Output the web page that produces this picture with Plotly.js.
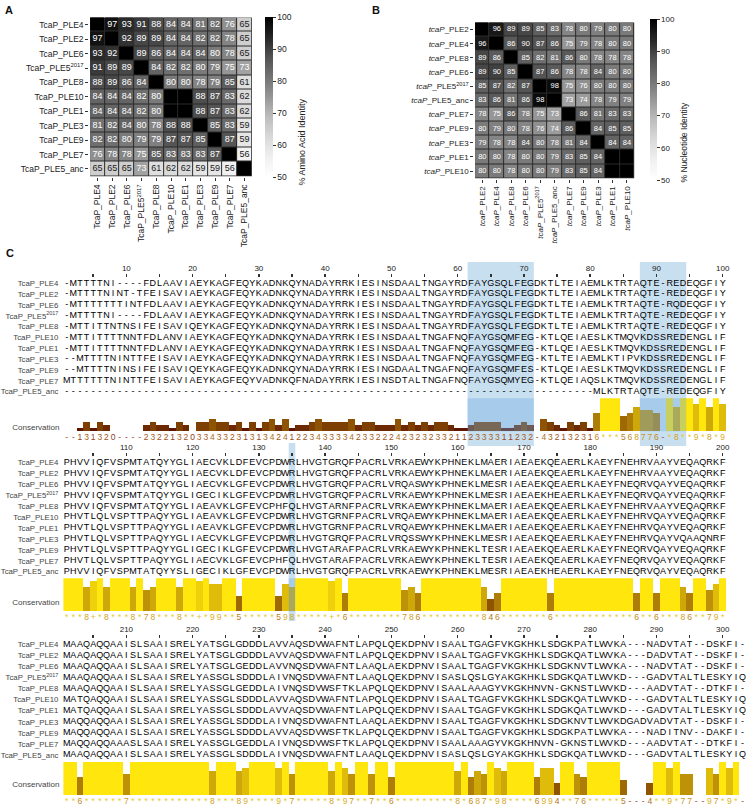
<!DOCTYPE html>
<html>
<head>
<meta charset="utf-8">
<script src="https://cdn.plot.ly/plotly-3.0.1.min.js"></script>
<style>
  html, body { margin: 0; padding: 0; background: #fff; }
  #chart { width: 747px; height: 804px; }
</style>
</head>
<body>
<div id="chart"></div>
<script>
// Identidad de aminoácidos (A) y nucleótidos (B), y alineamiento (C)
const aaLabels = ["TcaP_PLE4", "TcaP_PLE2", "TcaP_PLE6", "TcaP_PLE5<sup>2017</sup>", "TcaP_PLE8", "TcaP_PLE10",
  "TcaP_PLE1", "TcaP_PLE3", "TcaP_PLE9", "TcaP_PLE7", "TcaP_PLE5_anc"]
const aaIdentity = [
  [100, 97, 93, 91, 88, 84, 84, 81, 82, 76, 65],
  [97, 100, 92, 89, 89, 84, 84, 82, 82, 78, 65],
  [93, 92, 100, 89, 86, 84, 84, 84, 80, 78, 65],
  [91, 89, 89, 100, 84, 82, 82, 80, 79, 75, 73],
  [88, 89, 86, 84, 100, 80, 80, 78, 79, 85, 61],
  [84, 84, 84, 82, 80, 100, 100, 88, 87, 83, 62],
  [84, 84, 84, 82, 80, 100, 100, 88, 87, 83, 62],
  [81, 82, 84, 80, 78, 88, 88, 100, 85, 83, 59],
  [82, 82, 80, 79, 79, 87, 87, 85, 100, 87, 59],
  [76, 78, 78, 75, 85, 83, 83, 83, 87, 100, 56],
  [65, 65, 65, 73, 61, 62, 62, 59, 59, 56, 100],
]

const ntLabels = ["<i>tcaP</i>_PLE2", "<i>tcaP</i>_PLE4", "<i>tcaP</i>_PLE8", "<i>tcaP</i>_PLE6",
  "<i>tcaP</i>_PLE5<sup>2017</sup>", "<i>tcaP</i>_PLE5_anc", "<i>tcaP</i>_PLE7", "<i>tcaP</i>_PLE9",
  "<i>tcaP</i>_PLE3", "<i>tcaP</i>_PLE1", "<i>tcaP</i>_PLE10"]
const ntIdentity = [
  [100, 96, 89, 89, 85, 83, 78, 80, 79, 80, 80],
  [96, 100, 86, 90, 87, 86, 75, 79, 78, 80, 80],
  [89, 86, 100, 85, 82, 81, 86, 80, 78, 78, 78],
  [89, 90, 85, 100, 87, 86, 78, 78, 84, 80, 80],
  [85, 87, 82, 87, 100, 98, 75, 76, 80, 80, 80],
  [83, 86, 81, 86, 98, 100, 73, 74, 78, 79, 79],
  [78, 75, 86, 78, 75, 73, 100, 86, 81, 83, 83],
  [80, 79, 80, 78, 76, 74, 86, 100, 84, 85, 85],
  [79, 78, 78, 84, 80, 78, 81, 84, 100, 84, 84],
  [80, 80, 78, 80, 80, 79, 83, 85, 84, 100, 100],
  [80, 80, 78, 80, 80, 79, 83, 85, 84, 100, 100],
]

const alnNames = ["TcaP_PLE4", "TcaP_PLE2", "TcaP_PLE6", "TcaP_PLE5<sup>2017</sup>", "TcaP_PLE8", "TcaP_PLE10",
  "TcaP_PLE1", "TcaP_PLE3", "TcaP_PLE9", "TcaP_PLE7", "TcaP_PLE5_anc"]

// posiciones 1-100
const alnBlock1 = [
  "-MTTTTNI----FDLAAVIAEYKAGFEQYKADNKQYNADAYRRKIESINSDAALTNGAYRDFAYGSQLFEGDKTLTEIAEMLKTRTAQTE-REDEQGFIY",
  "-MTTTTNINT-TFEISAVIAEYKAGFEQYKADNKQYNADAYRRKIESINSDAALTNGAYRDFAYGSQLFEGDKTLTEIAEMLKTRTAQTE-REDEQGFIY",
  "-MTTTTTTTINTFDLAAVIAEYKAGFEQYKADNKQYNADAYRRKIESINSDAALTNGAYRDFAYGSQLFEGDKTLTEIAEMLKTRTAQTE-RQDEQGFIY",
  "-MTTTTNI----FDLAAVIAEYKAGFEQYKADNKQYNADAYRRKIESINSDAALTNGAYRDFAYGSQLFEGDKTLTEIAEMLKTRTAQTE-REDEQGFIY",
  "-MTTITTNTNSIFEISAVIQEYKAGFEQYKADNKQYNADAYRRKIESINSDAALTNGAYRDFAYGSQLFEGDKTLTEIAEMLKTRTAQTE-REDEQGFIY",
  "-MTTITTTTNNTFDLANVIAEYKAGFEQYKADNKQYNADAYRRKIESINSDAALTNGAFNQFAYGSQMFEG-KTLQEIAESLKTMQVKDSSREDENGLIF",
  "-MTTITTTTNNTFDLANVIAEYKAGFEQYKADNKQYNADAYRRKIESINSDAALTNGAFNQFAYGSQMFEG-KTLQEIAESLKTMQVKDSSREDENGLIF",
  "--MTTTTNINTTFEISAVIAEYKAGFEQYKADNKQYNADAYRRKIESINSDAALTNGAFNQFAYGSQMFEG-KTLTEIAEMLKTIPVKDSSREDENGLIF",
  "--MTTTTNINSIFEISAVIQEYKAGFEQYKADNKQYNADAYRRKIESINGDAALTNGAFNQFAYGSQMFES-KTLQEIAESLKTMQVKDSSREDENGLIF",
  "MTTTTTTNINTTFEISAVIAEYKAGFEQYVADNKQFNADAYRRKIESINSDTALTNGAFNQFAYGSQMYEG-KTLQEIAQSLKTMQVKDSSREDENGLIF",
  "----------" + "----------" + "----------" + "----------" + "----------" + "----------" + "----------" +
    "----------" + "MLKTRTAQTE-REDEQGFIY",
]
// posiciones 101-200
const alnBlock2 = [
  "PHVVIQFVSPMTATQYYGLIAECVKLDFEVCPDWRLHVGTGRQFPACRLVRKAEWYKPHNEKLMAERIAEAEKQEAERLKAEYFNEHRVAAYVEQAQRKF",
  "PHVVIQFVSPMTATQYYGLIAECVKLDFEVCPDWRLHVGTGRQFPACRLVRKAEWYKPHNEKLMAERIAEAEKQEAERLKAEYFNEHRVAAYVEQAQRKF",
  "PHVVIQFVSPMTATQYYGLIAECVKLGFEVCPDWRLHVGTGRQFPACRLVRQASWYKPHNEKLMESRIAEAEKQEAERLKAEYFNEQRVQAYVEQAQRKF",
  "PHVVIQFVSPMTATQYYGLIGECIKLGFEVCPDWRLHVGTGRQFPACRLVRKAEWYKPHNEKLMESRIAEAEKHEAERLKAEYFNEQRVQAYVEQAQRKF",
  "PHVVIQFVSPMTATQYYGLIAEAVKLGFEVCPHFQLHVGTARNFPACRLVRKAEWYKPHNEKLMAERIAEAEKQEAERLKAEYFNEHRVAAYVEQAQRKF",
  "PHVTLQLVSPTTPAQYYGLIAEAVKLGFEVCPDWRLHVGTGRNFPACRLVRQAEWYKPHNEKLMAERIAEAEKQEAERLKAEYFNEHRVQAYVEQAQRKF",
  "PHVTLQLVSPTTPAQYYGLIAEAVKLGFEVCPDWRLHVGTGRNFPACRLVRQAEWYKPHNEKLMAERIAEAEKQEAERLKAEYFNEHRVQAYVEQAQRKF",
  "PHVTLQLVSPTTPAQYYGLIAECVKLGFEVCPDWRLHVGTGRQFPACRLVRQSSWYKPHNEKLMESRIAEAEKQEAERLKAEYFNEHRVQAYVQAAQNRF",
  "PHVTLQLVSPTTPAQYYGLIGECIKLGFEVCPDWRLHVGTARAFPACRLVRKAEWYKPHNEKLTESRIAEAEKQEAERLKAEYFNEQRVQAYVEQAQRKF",
  "PHVTLQLVSPTTPAQYYGLIAECVKLGFEVCPHFQLHVGTARAFPACRLVRKAEWYKPHNEKLTESRIAEAEKQEAERLKAEYFNEQRVQAYVEQAQRKF",
  "PHVVIQFVSPMTATQYYSLIGECIKLGFEVCPDWRLHVGTGRQFPACRLVRKAEWYKPHNEKLMESRIAEAEKHEAERLKAEYFNEQRVQAYVEQAQRKF",
]
// posiciones 201-303
const alnBlock3 = [
  "MAAQAQQAAISLSAAISRELYATSGLGDDDLAVVAQSDVWAFNTLAPQLQEKDPNVISAALTGAGFVKGKHKLSDGKPATLWVKA---NADVTAT--DSKFI-",
  "MAAQAQQAAISLSAAISRELYATSGLGDDDLAVVAQSDVWAFNTLAPQLQEKDPNVISAALTGAGFVKGKHKLSDGKQATLWVKA---DADVTAT--DSKFI-",
  "MAAQAQQAAISLSAAISRELYATSGLGEDDLAVVNQSDVWAFNTLAAQLAEKDPNVISAALTGAGFVKGKHKLSDGKNVTLWVKA---NADVTAT--DSKFI-",
  "MAAQAQQAAISLSAAISRELYASSGLSDDDLAIVNQSDVWAFNTLAAQLQEKDPNVISASLQSLGYAKGKHKLSDGKQATLWVKD---GADVTALTLESKYIQ",
  "MAAQAQQAAISLSAAISRELYASSGLGEDDLAIVNQSDVWSFTKLAPQLQEKDPNVISAALAAAGYVKGKHNVN-GKNSTLWVKD---AADVTAT--DTKFI-",
  "MATQAQQAAISLSAAISRELYASSGLSDDDLAVVAQSDVWAFNTLAPQLQEKDPNVISAALTGAGFVKGKHKLSDGKQATLWVKD---GADVTALTLESKYIQ",
  "MATQAQQAAISLSAAISRELYASSGLSDDDLAVVAQSDVWAFNTLAPQLQEKDPNVISAALTGAGFVKGKHKLSDGKQATLWVKD---GADVTALTLESKYIQ",
  "MAQQAQQAAISLSAAISRELYASSGLSDDDLAIVNQSDVWAFNTLAAQLAEKDPNVISAALTGAGFVKGKHKLSDGKNVTLWVKDGADVADVTAT--DSKFI-",
  "MAQQAQQAAISLSAAISRELYASSGLSDDDLAVVAQSDVWSFTKLAPQLQEKDPNVISAALTGAGFVKGKHKLSDGKPATLWVKA---NADITNV--DAKFI-",
  "MAQQAQQAAASLSAAISRELYASSGLGEDDLAIVNQSDVWSFTKLAPQLQEKDPNVISAALAAAGYVKGKHNVN-GKNSTLWVKD---AADVTAT--DTKFI-",
  "MAAQAQQAAISLSAAISRELYASSGLSDDDLAIVNQSDVWAFNTLAAQLQEKDPNVISASLQSLGYAKGKHKLSDGKQATLWVKD---GADVTALTLESKYIQ",
]

// conservación (Jalview): '*' = 11, '+' = 10, '-' = hueco
const consBlock1 = "--131320----2322132033433231313424122343333423" + "32224232323321123333" +
  "11232-432132316***56" + "8776-*8**9*8*9"
const consBlock2 = "***8+*8***" + "8*78***8**" + "+*99**5***" + "**598*****" + "+*6*******" +
  "*786******" + "***846****" + "***6******" + "******6**6" + "***86**79*"
const consBlock3 = "**6******7" + "**********" + "**8***89**" + "**9*7*****" + "8*97**7**6" +
  "*********8" + "*687*98***" + "*6994**76*" + "****5---4*" + "*9*77--97*" + "9*-"

// regiones resaltadas (posiciones del alineamiento)
const highlightStart = [62, 88, 135]
const highlightEnd = [71, 94, 135]

const blockStart = [1, 101, 201]
const blockEnd = [100, 200, 303]

// ---------------------------------------------------------------
const W = 747, H = 804
const fx = px => px / W
const fy = px => 1 - px / H
const FONT = "Liberation Sans, Arial, sans-serif"
const CHAR_W = 6.626
const BAR_UNIT = 3

const alnBlocks = [alnBlock1, alnBlock2, alnBlock3]
const consBlocks = [consBlock1, consBlock2, consBlock3]

alnBlocks.forEach((rows, k) => {
  const n = blockEnd[k] - blockStart[k] + 1
  rows.forEach((s, r) => { if (s.length !== n) throw new Error(`block ${k + 1} row ${r} length ${s.length}`) })
  if (consBlocks[k].length !== n) throw new Error(`cons ${k + 1} length ${consBlocks[k].length}`)
})

// geometría de cada bloque en píxeles
const blockGeo = [
  { x0: 63.4, seqTop: 277.9, seqBot: 397.1, barTop: 398.3, consLabel: 1.5, hl: [262, 446] },
  { x0: 63.4, seqTop: 457.3, seqBot: 577.2, barTop: 578.3, consLabel: 3.2, hl: [443, 621] },
  { x0: 63.4, seqTop: 638.8, seqBot: 760.5, barTop: 761.7, consLabel: 3.6, hl: [625, 804] },
]

const greys = [[0, "#ffffff"], [0.125, "#f0f0f0"], [0.25, "#d9d9d9"], [0.375, "#bdbdbd"], [0.5, "#969696"],
  [0.625, "#737373"], [0.75, "#525252"], [0.875, "#252525"], [1, "#000000"]]

function consValue(ch) {
  if (ch === "*") return 11
  if (ch === "+") return 10
  if (ch === "-") return null
  return Number(ch)
}
function consColour(v) {
  const t = v / 11
  return `rgb(${Math.round(77 + 178 * t)},${Math.round(230 * t)},${Math.round(12 * t)})`
}
function consTextColour(v) {
  const t = v / 11
  return `rgb(${Math.round(140 + 95 * t)},${Math.round(60 + 140 * t)},${Math.round(30 + 10 * t)})`
}

function cellText(labels, matrix, xa, ya, size) {
  const xs = [], ys = [], ts = [], cs = []
  for (let i = 0; i < matrix.length; i++) {
    for (let j = 0; j < matrix[i].length; j++) {
      const v = matrix[i][j]
      if (v >= 100) continue
      xs.push(labels[j]); ys.push(labels[i]); ts.push(String(v))
      cs.push(v < 70 ? "#1a1a1a" : "#ffffff")
    }
  }
  return {
    type: "scatter", mode: "text", x: xs, y: ys, text: ts, xaxis: xa, yaxis: ya,
    textfont: { family: FONT, size: size, color: cs }, hoverinfo: "skip", cliponaxis: false,
  }
}

const traces = [
  {
    type: "heatmap", z: aaIdentity, x: aaLabels, y: aaLabels, xaxis: "x", yaxis: "y",
    colorscale: greys, zmin: 50, zmax: 100, xgap: 1, ygap: 1,
    colorbar: {
      x: fx(265), xanchor: "left", y: fy(17), yanchor: "top", len: 160, lenmode: "pixels",
      thickness: 8, thicknessmode: "pixels", xpad: 0, ypad: 0, outlinewidth: 0,
      tickvals: [50, 60, 70, 80, 90, 100], ticks: "outside", ticklen: 3, tickcolor: "#333",
      tickfont: { family: FONT, size: 8.5, color: "#222" },
    },
  },
  cellText(aaLabels, aaIdentity, "x", "y", 9),
  {
    type: "heatmap", z: ntIdentity, x: ntLabels, y: ntLabels, xaxis: "x2", yaxis: "y2",
    colorscale: greys, zmin: 50, zmax: 100, xgap: 1, ygap: 1,
    colorbar: {
      x: fx(650), xanchor: "left", y: fy(19), yanchor: "top", len: 161, lenmode: "pixels",
      thickness: 7, thicknessmode: "pixels", xpad: 0, ypad: 0, outlinewidth: 0,
      tickvals: [50, 60, 70, 80, 90, 100], ticks: "outside", ticklen: 3, tickcolor: "#333",
      tickfont: { family: FONT, size: 8, color: "#222" },
    },
  },
  cellText(ntLabels, ntIdentity, "x2", "y2", 7.5),
]

const heatAxis = {
  type: "category", showgrid: false, zeroline: false, showline: false, ticks: "outside",
  ticklen: 3, tickcolor: "#333", fixedrange: true,
}

const layout = {
  width: W, height: H, autosize: false,
  margin: { l: 0, r: 0, t: 0, b: 0 },
  paper_bgcolor: "#ffffff", plot_bgcolor: "rgba(0,0,0,0)",
  font: { family: FONT, color: "#222" },
  showlegend: false, hovermode: false, bargap: 0,
  xaxis: Object.assign({}, heatAxis, {
    domain: [fx(89.3), fx(252.7)], anchor: "y", tickangle: -90,
    tickmode: "array", tickvals: aaLabels, ticktext: aaLabels,
    tickfont: { family: FONT, size: 8.5, color: "#222" },
  }),
  yaxis: Object.assign({}, heatAxis, {
    domain: [fy(177), fy(16.7)], anchor: "x", autorange: "reversed",
    tickmode: "array", tickvals: aaLabels, ticktext: aaLabels,
    tickfont: { family: FONT, size: 8.5, color: "#222" },
  }),
  xaxis2: Object.assign({}, heatAxis, {
    domain: [fx(474.3), fx(635)], anchor: "y2", tickangle: -90,
    tickmode: "array", tickvals: ntLabels, ticktext: ntLabels,
    tickfont: { family: FONT, size: 8, color: "#222" },
  }),
  yaxis2: Object.assign({}, heatAxis, {
    domain: [fy(179), fy(21.7)], anchor: "x2", autorange: "reversed",
    tickmode: "array", tickvals: ntLabels, ticktext: ntLabels,
    tickfont: { family: FONT, size: 8, color: "#222" },
  }),
  shapes: [
    { type: "rect", xref: "x", yref: "y", x0: -0.5, x1: 10.5, y0: -0.5, y1: 10.5, layer: "below",
      fillcolor: "#2b2b2b", line: { width: 0 } },
    { type: "rect", xref: "x2", yref: "y2", x0: -0.5, x1: 10.5, y0: -0.5, y1: 10.5, layer: "below",
      fillcolor: "#2b2b2b", line: { width: 0 } },
  ],
  annotations: [
    { text: "<b>A</b>", x: fx(3), y: fy(2), xref: "paper", yref: "paper", xanchor: "left", yanchor: "top",
      showarrow: false, font: { size: 11, color: "#111" } },
    { text: "<b>B</b>", x: fx(370), y: fy(2), xref: "paper", yref: "paper", xanchor: "left", yanchor: "top",
      showarrow: false, font: { size: 11, color: "#111" } },
    { text: "<b>C</b>", x: fx(4), y: fy(245), xref: "paper", yref: "paper", xanchor: "left", yanchor: "top",
      showarrow: false, font: { size: 11, color: "#111" } },
    { text: "% Amino Acid Identity", x: fx(301), y: fy(97), xref: "paper", yref: "paper", textangle: -90,
      showarrow: false, font: { size: 9, color: "#222" } },
    { text: "% Nucleotide Identity", x: fx(690), y: fy(100), xref: "paper", yref: "paper", textangle: -90,
      showarrow: false, font: { size: 8.5, color: "#222" } },
  ],
}

blockStart.forEach((start, k) => {
  const end = blockEnd[k]
  const g = blockGeo[k]
  const n = end - start + 1
  const xa = "x" + (3 + k), ya = "y" + (3 + k), yb = "y" + (6 + k)

  // letras del alineamiento
  const xs = [], ys = [], ts = []
  alnBlocks[k].forEach((s, r) => {
    for (let i = 0; i < s.length; i++) { xs.push(start + i); ys.push(r); ts.push(s[i]) }
  })
  traces.push({
    type: "scatter", mode: "text", x: xs, y: ys, text: ts, xaxis: xa, yaxis: ya,
    textfont: { family: FONT, size: 9, color: "#000" }, hoverinfo: "skip", cliponaxis: false,
  })

  // barras de conservación y sus etiquetas
  const bx = [], by = [], bc = [], dx = [], dy = [], dt = [], dc = []
  const cons = consBlocks[k]
  for (let i = 0; i < cons.length; i++) {
    const v = consValue(cons[i])
    dx.push(start + i); dy.push(-2.3); dt.push(cons[i])
    dc.push(v === null ? "rgb(150,70,50)" : consTextColour(v))
    if (v !== null) { bx.push(start + i); by.push(v); bc.push(consColour(v)) }
  }
  traces.push({
    type: "bar", x: bx, y: by, width: 1, xaxis: xa, yaxis: yb,
    marker: { color: bc, line: { width: 0 } }, hoverinfo: "skip",
  })
  traces.push({
    type: "scatter", mode: "text", x: dx, y: dy, text: dt, xaxis: xa, yaxis: yb,
    textfont: { family: FONT, size: 8.5, color: dc }, hoverinfo: "skip", cliponaxis: false,
  })

  const tickvals = [], ticktext = []
  for (let p = start; p <= Math.min(end, start + 99); p++) {
    if (p % 5 === 0) { tickvals.push(p); ticktext.push(p % 10 === 0 ? String(p) : " ") }
  }

  layout["xaxis" + (3 + k)] = {
    domain: [fx(g.x0), fx(g.x0 + n * CHAR_W)], range: [start - 0.5, end + 0.5], anchor: ya, side: "top",
    tickmode: "array", tickvals: tickvals, ticktext: ticktext, ticks: "outside", ticklen: 3,
    tickwidth: 1.5, tickcolor: "#333", tickfont: { family: FONT, size: 8, color: "#222" },
    showgrid: false, zeroline: false, showline: false, fixedrange: true,
  }
  layout["yaxis" + (3 + k)] = {
    domain: [fy(g.seqBot), fy(g.seqTop)], range: [10.5, -0.5], anchor: xa,
    tickmode: "array", tickvals: alnNames.map((_, i) => i), ticktext: alnNames, ticks: "",
    ticklabelstandoff: 4, tickfont: { family: FONT, size: 7.8, color: "#444" },
    showgrid: false, zeroline: false, showline: false, fixedrange: true,
  }
  layout["yaxis" + (6 + k)] = {
    domain: [Math.max(0, fy(g.barTop + 14 * BAR_UNIT)), fy(g.barTop)], range: [-3, 11], anchor: xa,
    tickmode: "array", tickvals: [g.consLabel], ticktext: ["Conservation"], ticks: "",
    ticklabelstandoff: 3, tickfont: { family: FONT, size: 8, color: "#444" },
    showgrid: false, zeroline: false, showline: false, fixedrange: true,
  }
})

// resaltados azules
highlightStart.forEach((s, h) => {
  const e = highlightEnd[h]
  const k = blockStart.findIndex((st, i) => s >= st && s <= blockEnd[i])
  const g = blockGeo[k]
  const xa = "x" + (3 + k)
  layout.shapes.push({
    type: "rect", xref: xa, yref: "paper", x0: s - 0.5, x1: e + 0.5, y0: fy(g.hl[1]), y1: fy(g.hl[0]),
    layer: "below", fillcolor: "rgb(200,223,240)", line: { width: 0 },
  })
  layout.shapes.push({
    type: "rect", xref: xa, yref: "paper", x0: s - 0.5, x1: e + 0.5,
    y0: fy(g.barTop + 11 * BAR_UNIT), y1: fy(g.barTop),
    layer: "above", fillcolor: "rgba(110,170,225,0.38)", line: { width: 0 },
  })
})

Plotly.newPlot("chart", traces, layout, { staticPlot: true, displayModeBar: false })
</script>
</body>
</html>
